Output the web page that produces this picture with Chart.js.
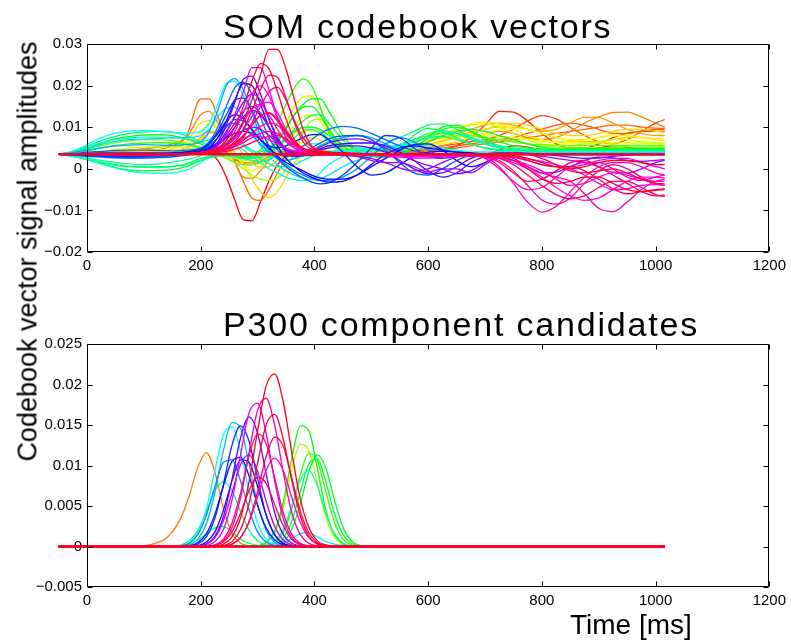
<!DOCTYPE html>
<html>
<head>
<meta charset="utf-8">
<script src="https://cdn.jsdelivr.net/npm/chart.js@4.4.1/dist/chart.umd.min.js"></script>
<style>
  body { margin: 0; background: #fff; }
  #wrap { position: relative; width: 791px; height: 640px; font-family: "Liberation Sans", Arial, sans-serif; color: #000; }
  canvas { position: absolute; left: 0; }
  #som { top: 0; }
  #p300 { top: 300px; }
  .lbl { position: absolute; white-space: nowrap; }
  .title { left: 223px; font-size: 34px; line-height: 34px; letter-spacing: 1.8px; }
  #t1 { top: 9px; }
  #t2 { top: 307px; }
  #xlab { left: 570px; top: 611px; font-size: 28px; line-height: 28px; }
  #ylab { left: -222px; top: 238px; width: 500px; height: 27px; font-size: 27px; line-height: 27px; text-align: center; transform: rotate(-90deg); }
</style>
</head>
<body>
<div id="wrap">
  <canvas id="som" width="791" height="300"></canvas>
  <canvas id="p300" width="791" height="340"></canvas>
  <div class="lbl title" id="t1">SOM codebook vectors</div>
  <div class="lbl title" id="t2">P300 component candidates</div>
  <div class="lbl" id="xlab">Time [ms]</div>
  <div class="lbl" id="ylab">Codebook vector signal amplitudes</div>
</div>
<script>
// amplitudes below are in thousandths (1 = 0.001)
const xTicks = [0, 200, 400, 600, 800, 1000, 1200];
const somTicks = [-0.02, -0.01, 0, 0.01, 0.02, 0.03];
const p300Ticks = [-0.005, 0, 0.005, 0.01, 0.015, 0.02, 0.025];

// sample times of the codebook vectors [ms]
const somTime = [-50, -25, 0, 25, 50, 75, 100, 125, 150, 175,
  200, 215, 230, 245, 260, 275, 290, 305, 320, 335, 350, 365, 380, 395, 410, 425,
  450, 475, 500, 525, 550, 575, 600, 625, 650, 675,
  700, 725, 750, 775, 800, 825, 850, 875, 900, 925, 950, 975, 1000, 1016];

const cb01 = [3.5,3.4,3.2,3.0,2.9,3.0,3.2,3.4,3.6,3.9, 4.4,4.0,2.0,-2.0,-7.5,-12.3,-12.5,-8.0,-3.0,1.0,3.0,4.0,4.3,4.2,4.0,3.8, 3.6,3.5,3.4,3.4,3.5,3.6,3.6,3.5,3.5,3.5, 3.6,4.5,5.5,5.2,4.4,3.8,3.6,4.0,5.0,5.5,5.2,4.6,4.4,4.4];
const cb02 = [3.5,3.5,3.6,3.7,3.8,3.8,3.7,3.6,3.6,3.8, 4.5,5.0,5.0,4.0,2.5,1.5,1.5,2.5,3.5,4.0,4.0,3.8,3.6,3.5,3.5,3.5, 3.5,3.5,3.6,3.6,3.7,3.8,4.0,4.5,5.5,7.5, 10.5,13.8,13.6,11.5,8.5,6.0,5.0,5.0,6.0,7.5,8.5,9.0,9.0,9.0];
const cb03 = [3.5,3.6,3.8,4.0,4.2,4.2,4.1,4.0,4.0,4.2, 5.0,5.5,5.0,4.0,3.0,2.5,2.5,3.0,3.5,3.8,3.8,3.7,3.6,3.6,3.5,3.5, 3.5,3.6,3.7,3.9,4.2,4.5,5.0,5.5,6.0,6.5, 7.0,8.0,9.5,11.5,12.8,12.0,10.0,8.0,6.5,6.0,7.0,9.0,11.0,11.8];
const cb44 = [3.5,3.5,3.6,3.6,3.7,3.7,3.7,3.7,3.8,4.0, 4.5,4.8,4.5,3.5,2.2,1.2,1.0,1.8,3.0,3.8,4.0,3.9,3.7,3.6,3.5,3.5, 3.5,3.5,3.6,3.7,3.9,4.2,4.6,5.0,5.5,6.0, 6.5,7.0,7.5,8.5,9.5,10.5,11.0,10.5,9.5,8.5,8.5,9.0,9.5,9.5];
const cb04 = [3.5,3.6,3.8,4.0,4.2,4.5,4.8,5.2,6.0,8.0, 16.8,16.8,12.5,6.5,2.0,-3.0,-7.0,-7.6,-5.0,-1.0,2.5,4.0,4.5,4.5,4.2,4.0, 3.8,3.7,3.6,3.7,3.8,4.0,4.3,4.6,5.0,5.5, 6.0,6.5,7.0,7.5,8.0,8.5,9.0,9.5,10.0,10.5,10.5,10.0,9.8,9.7];
const cb05 = [3.5,3.5,3.6,3.7,3.8,4.0,4.2,4.6,5.5,7.5, 13.0,13.8,11.0,6.5,1.5,-2.0,-2.3,-0.5,2.0,3.5,4.2,4.5,4.5,4.3,4.0,3.8, 3.7,3.7,3.8,4.0,4.3,4.6,5.0,5.5,6.5,7.5, 8.5,9.0,8.5,7.5,7.0,7.5,9.0,11.0,12.5,13.5,13.6,12.5,11.0,10.0];
const cb06 = [3.5,3.5,3.5,3.6,3.6,3.7,3.8,3.9,4.2,5.0, 7.5,9.0,8.0,5.5,3.0,1.5,1.5,2.5,3.5,4.0,4.0,3.8,3.7,3.6,3.5,3.5, 3.5,3.6,3.8,4.2,4.8,5.5,6.5,7.5,8.5,9.5, 10.5,11.0,10.5,9.5,9.0,9.5,11.0,12.4,12.3,11.0,9.5,8.5,8.0,8.0];
const cb45 = [3.5,3.5,3.5,3.6,3.7,3.8,3.9,4.0,4.3,5.0, 7.0,8.5,9.0,8.0,6.0,3.5,1.5,0.2,0.5,2.0,3.5,4.3,4.6,4.5,4.2,4.0, 3.8,3.7,3.8,4.0,4.4,5.0,5.8,6.8,7.8,8.8, 9.5,10.0,10.0,9.5,8.5,7.5,6.8,6.5,6.5,7.0,7.5,7.5,7.2,7.0];
const cb07 = [3.5,3.5,3.6,3.7,3.8,3.9,4.0,4.2,4.8,6.5, 11.0,11.5,9.5,7.0,4.0,1.0,-2.5,-5.5,-6.9,-5.5,-2.0,1.5,3.5,4.5,4.5,4.2, 4.0,3.9,3.9,4.0,4.3,4.8,5.5,6.5,7.5,8.5, 9.5,10.5,11.0,10.5,9.5,8.5,8.0,8.0,8.5,9.0,9.5,9.5,9.0,8.8];
const cb08 = [3.5,3.4,3.3,3.2,3.1,3.1,3.2,3.4,4.0,5.5, 9.0,10.8,9.5,6.5,3.5,1.0,-0.5,0.5,2.5,4.0,4.8,5.5,6.5,7.5,7.0,5.5, 4.5,4.0,3.8,3.9,4.2,5.0,6.5,8.0,9.5,10.8, 11.3,10.8,9.5,8.0,7.0,6.5,6.5,7.0,7.5,8.0,8.0,7.5,7.0,7.0];
const cb09 = [3.5,3.6,3.7,3.8,3.9,4.0,4.0,4.0,4.1,4.3, 4.8,5.0,4.8,4.2,3.5,3.0,2.8,3.0,4.0,5.5,7.0,8.3,9.0,9.2,8.5,7.0, 5.0,4.0,3.7,3.8,4.2,4.8,5.5,6.0,6.5,7.5, 8.5,9.5,9.8,9.5,8.5,7.5,7.0,7.0,7.5,8.0,8.0,7.5,7.0,6.8];
const cb46 = [3.5,3.6,3.8,4.0,4.3,4.5,4.6,4.6,4.5,4.4, 4.3,4.0,3.6,3.2,2.8,2.5,2.5,3.0,4.0,5.8,8.0,10.5,12.5,13.0,11.5,8.5, 5.5,4.2,3.8,4.0,4.6,5.5,6.5,7.3,7.8,8.0, 8.0,7.8,7.5,7.0,6.6,6.3,6.2,6.2,6.2,6.2,6.2,6.1,6.0,6.0];
const cb10 = [3.5,3.6,3.8,4.2,4.6,5.0,5.2,5.3,5.3,5.0, 4.5,4.0,3.5,3.0,2.5,2.0,2.0,2.5,4.0,7.0,11.0,15.0,17.3,17.5,14.5,10.0, 5.0,3.5,3.2,3.5,4.2,5.5,7.0,8.5,9.5,10.5, 10.8,10.0,8.5,7.0,6.0,5.5,5.5,6.0,6.5,7.0,7.0,6.5,6.3,6.2];
const cb11 = [3.5,3.4,3.2,3.0,2.8,2.7,2.7,2.8,3.0,3.5, 4.5,5.0,4.5,3.0,1.5,0.0,-1.5,-2.5,-2.8,-2.3,0.0,4.0,8.5,11.5,12.0,9.5, 5.5,3.8,3.5,3.8,4.5,5.5,6.5,7.5,8.0,8.0, 7.5,7.0,6.5,6.0,5.5,5.2,5.0,5.0,5.0,5.2,5.5,5.5,5.5,5.5];
const cb12 = [3.5,4.0,4.8,5.6,6.3,6.8,7.0,7.0,6.8,6.2, 5.2,4.5,3.5,2.5,1.5,1.0,1.0,1.5,3.0,5.0,7.0,8.8,9.8,10.0,9.0,7.2, 5.2,4.3,4.2,4.8,5.8,7.0,8.0,8.6,8.5,8.0, 7.5,7.0,6.5,6.0,5.8,5.7,5.6,5.6,5.6,5.6,5.6,5.6,5.6,5.6];
const cb13 = [3.5,3.8,4.3,5.0,5.6,6.0,6.2,6.3,6.2,5.8, 5.0,4.5,4.0,3.5,3.0,3.0,3.5,4.5,7.0,11.0,15.5,19.5,21.6,20.0,15.0,9.0, 4.5,3.0,3.0,3.5,4.5,6.0,8.0,9.5,10.0,9.0, 7.5,6.5,5.5,5.0,4.8,4.7,4.7,4.8,4.9,5.0,5.0,5.0,5.0,5.0];
const cb14 = [3.5,4.0,5.0,6.2,7.2,7.8,8.1,8.2,8.0,7.2, 6.0,5.0,4.2,3.5,3.0,2.8,3.0,3.5,4.5,6.5,9.5,13.0,15.5,16.8,16.8,14.0, 8.0,4.5,3.0,2.8,3.5,5.0,7.5,10.0,10.5,9.0, 7.0,5.5,4.8,4.5,4.5,4.6,4.7,4.8,4.8,4.8,4.8,4.8,4.8,4.8];
const cb15 = [3.5,3.0,2.2,1.2,0.3,-0.3,-0.5,-0.4,-0.2,0.5, 2.0,2.8,3.3,3.5,3.5,3.5,3.6,4.0,5.0,7.0,10.0,13.0,14.8,15.0,13.0,9.5, 5.5,3.5,3.0,3.3,4.0,5.0,6.5,8.0,9.0,9.5, 9.0,8.0,7.0,6.0,5.2,4.8,4.6,4.6,4.6,4.6,4.6,4.6,4.6,4.6];
const cb16 = [3.5,3.1,2.4,1.6,1.0,0.6,0.4,0.4,0.6,1.2, 2.5,3.0,3.4,3.5,3.3,3.0,2.8,3.0,3.8,5.0,7.0,9.5,11.5,12.8,13.0,11.0, 7.0,4.0,3.0,3.2,5.0,8.0,9.7,9.0,7.5,6.0, 5.0,4.5,4.3,4.2,4.2,4.2,4.3,4.3,4.3,4.3,4.3,4.3,4.3,4.3];
const cb17 = [3.5,4.2,5.4,6.8,7.8,8.5,8.9,9.0,8.8,8.0, 6.5,5.5,4.5,3.5,2.8,2.5,2.5,3.0,4.0,5.5,7.5,9.0,10.0,10.0,9.5,8.0, 6.0,5.0,5.0,6.0,7.5,9.0,10.5,10.8,9.5,7.5, 6.0,5.0,4.5,4.3,4.2,4.2,4.2,4.2,4.2,4.2,4.2,4.2,4.2,4.2];
const cb18 = [3.5,3.0,2.2,1.4,0.8,0.5,0.4,0.5,0.6,1.0, 2.0,2.6,3.0,3.2,3.0,2.5,2.0,1.8,2.2,3.5,5.5,7.5,9.0,9.5,8.5,6.5, 4.5,3.5,3.3,3.8,5.0,6.5,7.5,7.8,7.0,6.0, 5.0,4.5,4.3,4.2,4.1,4.1,4.1,4.1,4.1,4.1,4.1,4.1,4.1,4.1];
const cb19 = [3.5,3.2,2.6,2.0,1.5,1.2,1.0,1.2,1.6,2.2, 3.2,4.5,6.0,6.8,6.5,5.5,4.0,2.5,1.2,0.5,0.5,1.0,2.0,3.0,3.8,4.2, 4.5,4.5,4.6,5.0,5.8,7.0,8.5,9.2,8.5,7.0, 6.0,5.2,4.8,4.5,4.4,4.4,4.4,4.4,4.4,4.4,4.4,4.4,4.4,4.4];
const cb20 = [3.5,4.2,5.2,6.2,7.0,7.4,7.6,7.6,7.5,7.2, 6.5,7.0,8.0,8.2,7.5,6.0,4.5,3.5,3.0,3.0,3.5,4.5,5.5,6.0,6.0,5.5, 4.5,4.0,4.0,4.5,5.5,6.5,7.5,8.5,8.5,7.5, 6.5,5.5,5.0,4.6,4.4,4.3,4.3,4.3,4.3,4.3,4.3,4.3,4.3,4.3];
const cb21 = [3.5,3.0,2.4,1.2,0.2,-0.6,-1.0,-1.1,-1.0,-0.3, 1.5,3.0,4.5,5.5,5.5,4.5,3.0,1.5,0.0,-1.0,-2.0,-2.6,-2.8,-2.5,-1.0,1.0, 3.0,4.0,4.5,4.8,5.2,5.5,5.5,5.0,4.5,4.0, 4.0,4.1,4.1,4.0,3.9,3.9,4.0,4.1,4.1,4.0,4.0,4.0,4.0,4.0];
const cb22 = [3.5,4.2,5.8,7.5,8.6,9.1,9.2,9.0,8.8,8.6, 9.0,11.0,15.5,20.5,21.0,17.5,12.0,7.0,4.0,2.5,2.0,2.5,3.0,3.5,3.8,4.0, 4.2,4.5,5.0,5.5,5.5,5.2,4.8,4.5,4.2,4.0, 4.0,3.9,3.9,3.9,3.9,3.9,3.9,3.9,3.9,3.9,3.9,3.9,3.9,3.9];
const cb23 = [3.5,4.0,4.9,5.9,6.6,7.0,7.1,7.3,7.5,7.5, 8.0,9.5,12.5,14.5,14.8,12.5,9.0,5.5,3.0,1.0,-0.5,-1.5,-2.2,-2.6,-2.4,-1.5, 0.5,2.0,3.0,3.5,3.5,3.4,3.3,3.3,3.4,3.5, 3.6,3.7,3.7,3.8,3.8,3.8,3.8,3.8,3.8,3.8,3.8,3.8,3.8,3.8];
const cb24 = [3.5,3.9,4.5,5.1,5.5,5.7,5.8,5.7,5.6,5.8, 6.5,9.0,14.0,20.0,21.7,19.0,13.5,8.0,4.5,2.5,2.0,2.5,3.5,4.5,5.5,6.5, 7.5,8.0,7.5,6.0,4.5,3.5,3.0,3.0,3.2,3.4, 3.5,3.6,3.6,3.6,3.6,3.6,3.6,3.6,3.6,3.6,3.6,3.6,3.6,3.6];
const cb25 = [3.5,3.3,3.0,2.8,2.6,2.6,2.7,2.9,3.2,3.6, 4.5,6.0,8.5,10.5,11.0,10.0,8.0,6.0,4.0,2.5,1.0,-0.5,-1.5,-2.3,-2.8,-2.8, -2.0,0.0,3.0,6.0,7.5,6.5,4.5,3.2,3.0,3.3, 3.5,3.5,3.5,3.5,3.5,3.5,3.5,3.5,3.5,3.5,3.5,3.5,3.5,3.5];
const cb26 = [3.5,3.7,4.0,4.2,4.4,4.5,4.5,4.4,4.3,4.5, 5.0,6.5,10.0,15.0,19.5,20.8,18.0,12.5,7.5,4.5,3.5,4.0,5.5,7.0,8.5,9.5, 10.2,9.8,8.5,7.0,5.5,4.3,3.5,3.2,3.3,3.5, 3.6,3.6,3.6,3.6,3.6,3.6,3.6,3.6,3.6,3.6,3.6,3.6,3.6,3.6];
const cb47 = [3.5,3.4,3.2,3.0,2.8,2.6,2.6,2.7,2.9,3.3, 4.2,5.5,7.5,10.0,11.8,11.5,9.5,7.0,4.8,3.5,3.0,3.2,4.0,5.0,6.2,7.2, 7.9,8.0,7.0,4.5,1.5,-1.0,-1.5,0.0,2.0,3.2, 3.5,3.6,3.6,3.6,3.6,3.6,3.6,3.6,3.6,3.6,3.6,3.6,3.6,3.6];
const cb27 = [3.5,3.3,3.1,3.0,2.9,2.9,3.0,3.1,3.3,3.6, 4.5,6.0,9.0,13.0,16.5,17.0,14.0,9.5,5.5,2.5,0.5,-1.0,-2.2,-3.2,-3.6,-3.4, -1.5,1.5,5.0,8.0,7.5,5.0,3.0,2.5,3.0,3.4, 3.5,3.5,3.5,3.5,3.5,3.5,3.5,3.5,3.5,3.5,3.5,3.5,3.5,3.5];
const cb28 = [3.5,3.6,3.7,3.8,3.8,3.8,3.8,3.8,3.9,4.1, 4.8,6.0,8.5,11.5,13.0,12.0,9.5,7.0,5.5,5.0,5.5,6.5,7.5,8.2,8.2,7.0, 4.0,0.5,-1.5,-1.0,1.0,3.0,4.0,4.2,4.0,3.8, 3.6,3.5,3.5,3.5,3.5,3.5,3.5,3.5,3.5,3.5,3.5,3.5,3.5,3.5];
const cb48 = [3.5,3.5,3.5,3.4,3.4,3.4,3.4,3.5,3.6,3.8, 4.3,5.0,6.2,7.5,8.5,9.0,8.5,7.0,5.0,3.0,1.5,0.5,-0.5,-1.5,-2.2,-2.5, -2.5,-1.5,0.5,2.5,4.5,5.8,6.0,4.5,2.0,0.5, 1.5,3.0,3.5,3.5,3.5,3.5,3.5,3.5,3.5,3.5,3.5,3.5,3.5,3.5];
const cb29 = [3.5,3.5,3.4,3.4,3.3,3.3,3.3,3.4,3.5,3.7, 4.2,5.0,7.5,11.5,16.5,20.5,20.0,15.5,10.0,5.5,2.5,0.5,-1.0,-2.0,-2.8,-3.2, -3.0,-1.5,1.0,3.5,5.0,5.5,5.0,4.5,4.0,3.8, 3.6,3.5,3.4,3.4,3.4,3.4,3.4,3.4,3.4,3.4,3.4,3.4,3.4,3.4];
const cb49 = [3.5,3.5,3.5,3.5,3.5,3.5,3.5,3.5,3.5,3.6, 4.0,4.6,5.8,7.5,10.0,12.5,14.0,13.0,10.0,6.8,4.5,3.5,3.5,4.0,4.8,5.5, 6.0,6.2,6.2,5.5,4.0,2.0,-0.5,-2.0,-1.0,1.5, 3.0,3.6,3.7,3.6,3.5,3.4,3.4,3.4,3.4,3.4,3.4,3.4,3.4,3.4];
const cb30 = [3.5,3.4,3.3,3.2,3.1,3.1,3.1,3.2,3.4,3.6, 4.0,4.6,6.5,10.5,16.0,21.5,22.3,18.0,12.0,7.0,4.0,3.0,3.2,3.8,4.5,5.0, 5.5,5.5,5.0,4.0,2.0,0.0,-1.2,-1.0,0.5,2.5, 3.5,3.8,3.8,3.7,3.6,3.5,3.5,3.5,3.5,3.5,3.5,3.5,3.5,3.5];
const cb31 = [3.5,3.5,3.5,3.5,3.6,3.6,3.6,3.6,3.6,3.7, 4.0,4.5,6.0,9.0,12.5,16.0,18.0,16.5,12.0,7.5,4.8,3.8,3.8,4.3,5.2,6.2, 7.0,7.2,6.5,5.0,3.5,2.0,0.8,0.0,-1.2,-0.5, 1.5,3.2,3.6,3.5,3.4,3.2,2.8,2.5,2.6,3.0,3.3,3.4,3.4,3.4];
const cb50 = [3.5,3.5,3.5,3.5,3.5,3.5,3.5,3.5,3.5,3.6, 3.8,4.2,5.0,6.2,7.8,9.2,10.0,9.5,8.0,6.2,4.8,4.0,3.6,3.4,3.3,3.3, 3.2,3.0,2.5,1.5,0.2,-0.5,0.0,1.5,2.8,3.4, 3.5,3.4,2.5,0.5,-1.0,-0.8,0.5,2.0,2.8,2.6,2.0,1.8,2.0,2.2];
const cb32 = [3.5,3.5,3.5,3.5,3.5,3.4,3.4,3.4,3.5,3.6, 3.9,4.3,5.5,8.0,11.0,13.8,15.0,13.5,10.0,6.5,4.5,3.5,3.2,3.2,3.4,3.6, 3.5,3.0,2.0,1.5,1.5,0.5,-0.8,0.0,0.0,-1.0, 1.0,3.0,3.8,3.6,3.0,2.5,2.0,1.5,0.5,-0.8,-1.0,0.0,1.5,2.0];
const cb33 = [3.5,3.5,3.6,3.6,3.6,3.6,3.5,3.5,3.5,3.6, 3.9,4.3,5.5,8.5,13.0,18.5,24.3,24.3,19.0,12.5,7.5,5.0,4.2,4.0,4.0,3.8, 3.6,3.4,3.2,3.0,2.8,2.6,2.6,2.8,3.0,3.2, 3.3,3.2,2.8,2.0,1.0,0.5,0.5,1.0,2.0,2.5,2.5,1.5,0.5,0.0];
const cb51 = [3.5,3.5,3.5,3.5,3.5,3.5,3.5,3.5,3.5,3.5, 3.7,4.0,4.6,5.6,7.2,9.5,12.5,15.5,16.0,13.5,9.5,6.5,4.8,4.1,3.8,3.7, 3.6,3.5,3.4,3.3,3.2,3.1,3.0,3.0,3.0,3.0, 3.0,3.0,2.8,2.4,1.8,1.0,0.0,-1.5,-3.5,-5.0,-4.8,-4.0,-3.8,-4.0];
const cb34 = [3.5,3.5,3.5,3.4,3.4,3.4,3.4,3.4,3.5,3.6, 3.8,4.0,4.6,6.0,9.0,13.5,18.0,20.0,17.5,12.0,7.5,5.0,4.2,4.0,4.0,3.9, 3.7,3.5,3.3,3.2,3.1,3.0,3.0,3.0,3.0,3.1, 3.0,2.5,1.5,0.0,-2.0,-4.5,-6.5,-7.6,-7.0,-5.0,-3.0,-2.0,-2.0,-2.2];
const cb35 = [3.5,3.5,3.5,3.5,3.5,3.5,3.5,3.5,3.5,3.5, 3.6,3.8,4.2,5.0,6.0,7.2,8.0,7.8,7.0,6.0,5.0,4.3,4.0,3.8,3.7,3.6, 3.5,3.5,3.5,3.5,3.5,3.5,3.5,3.4,3.3,3.2, 3.0,2.6,2.0,1.0,-0.5,-2.5,-4.0,-3.5,-2.0,-1.0,-1.5,-2.5,-3.0,-3.0];
const cb36 = [3.5,3.5,3.5,3.5,3.5,3.5,3.5,3.5,3.5,3.6, 3.8,4.0,4.5,5.5,7.5,11.0,14.5,15.5,13.0,9.5,6.5,5.0,4.3,4.0,4.0,3.9, 3.8,3.7,3.6,3.5,3.4,3.3,3.2,3.2,3.2,3.2, 2.8,0.5,-3.5,-8.0,-10.4,-9.0,-5.5,-2.0,0.5,1.5,1.5,0.5,-1.0,-1.5];
const cb37 = [3.5,3.5,3.5,3.5,3.5,3.5,3.5,3.5,3.5,3.5, 3.6,3.7,4.0,4.5,5.3,6.3,7.5,8.5,9.0,8.5,7.0,5.5,4.5,4.0,3.8,3.7, 3.6,3.6,3.5,3.5,3.5,3.5,3.5,3.5,3.4,3.3, 2.5,0.0,-3.0,-5.0,-4.5,-2.0,0.5,1.5,1.5,0.0,-2.0,-2.8,-2.0,-1.5];
const cb38 = [3.5,3.5,3.4,3.4,3.3,3.3,3.3,3.3,3.4,3.5, 3.7,3.9,4.2,4.8,6.0,8.0,10.5,12.8,13.3,11.5,8.5,6.0,4.6,4.0,3.8,3.7, 3.6,3.6,3.5,3.5,3.5,3.5,3.5,3.5,3.5,3.4, 3.3,3.0,2.0,0.5,-1.0,-2.0,-3.0,-6.0,-9.5,-10.3,-8.0,-5.0,-3.0,-2.5];
const cb52 = [3.5,3.5,3.5,3.5,3.5,3.5,3.5,3.5,3.5,3.5, 3.6,3.8,4.1,4.6,5.5,6.8,8.5,10.2,11.0,10.5,8.5,6.2,4.8,4.1,3.8,3.7, 3.6,3.6,3.6,3.5,3.5,3.5,3.4,3.4,3.3,3.2, 3.0,2.0,-0.5,-4.0,-7.5,-8.5,-7.0,-3.5,-0.5,1.0,0.0,-2.0,-3.5,-4.0];
const cb39 = [3.5,3.5,3.5,3.5,3.5,3.5,3.5,3.5,3.5,3.6, 3.7,3.8,4.0,4.5,5.5,7.5,11.0,15.0,18.5,19.6,16.5,11.5,7.5,5.2,4.3,4.0, 3.8,3.6,3.5,3.5,3.5,3.4,3.4,3.4,3.3,3.3, 3.2,2.5,1.0,-1.5,-4.0,-6.2,-7.2,-6.5,-4.5,-3.0,-3.0,-4.5,-6.2,-6.7];
const cb53 = [3.5,3.5,3.5,3.5,3.5,3.5,3.5,3.5,3.5,3.5, 3.6,3.7,3.9,4.2,4.7,5.4,6.3,7.2,7.8,8.0,7.2,5.8,4.7,4.0,3.7,3.6, 3.5,3.5,3.5,3.5,3.5,3.5,3.5,3.4,3.4,3.3, 3.0,1.5,-1.0,-3.0,-2.5,-0.5,1.5,2.0,0.5,-1.5,-3.5,-5.5,-6.5,-6.3];
const cb40 = [3.5,3.5,3.5,3.5,3.5,3.5,3.5,3.5,3.5,3.6, 3.7,3.8,4.2,5.0,6.5,9.5,14.0,19.0,22.5,22.0,17.0,11.0,6.5,4.6,4.1,3.9, 3.7,3.6,3.5,3.5,3.5,3.5,3.5,3.4,3.4,3.4, 3.3,3.2,2.8,2.0,1.0,0.5,0.5,-0.5,-2.5,-4.8,-6.0,-5.5,-5.0,-4.8];
const cb41 = [3.5,3.5,3.5,3.5,3.5,3.5,3.5,3.5,3.5,3.6, 3.7,3.9,4.3,5.0,6.2,8.0,10.5,12.8,13.5,12.0,9.0,6.5,5.0,4.3,4.0,3.8, 3.7,3.6,3.6,3.5,3.5,3.5,3.5,3.5,3.5,3.5, 3.5,3.6,3.8,3.5,2.5,1.0,-0.5,-1.0,-0.5,0.0,-1.0,-2.5,-3.5,-3.6];
const cb42 = [3.5,3.5,3.5,3.5,3.5,3.5,3.5,3.5,3.6,3.7, 4.0,4.3,5.0,6.8,10.0,15.0,21.0,25.3,24.0,18.5,12.0,7.0,4.8,4.2,4.0,3.9, 3.7,3.6,3.6,3.5,3.5,3.5,3.5,3.5,3.4,3.4, 3.3,3.0,2.0,0.0,-2.5,-3.5,-3.0,-2.0,-2.0,-3.5,-5.0,-5.5,-5.2,-5.0];
const cb43 = [3.5,3.5,3.5,3.5,3.5,3.5,3.5,3.5,3.5,3.6, 3.8,4.0,4.6,5.8,8.0,11.5,16.5,22.5,28.7,28.7,24.0,16.5,9.5,5.5,4.3,4.0, 3.8,3.7,3.6,3.6,3.5,3.5,3.5,3.5,3.5,3.5, 3.5,3.4,3.2,2.5,1.5,0.5,0.0,0.5,1.5,2.0,2.0,1.5,1.0,1.0];
// the many near-flat units that pile up on the rest level
const somRest = [3.5,3.5,3.5,3.5,3.5,3.5,3.5,3.5,3.5,3.5, 3.5,3.5,3.5,3.5,3.5,3.5,3.5,3.5,3.5,3.5,3.5,3.5,3.5,3.5,3.5,3.5, 3.5,3.5,3.5,3.5,3.5,3.5,3.5,3.5,3.5,3.5, 3.5,3.5,3.5,3.5,3.5,3.5,3.5,3.5,3.5,3.5,3.5,3.5,3.5,3.5];

// map units in map order, with their hue
const somUnits = [cb01, cb02, cb03, cb44, cb04, cb05, cb06, cb45, cb07, cb08, cb09, cb46, cb10, cb11, cb12,
  cb13, cb14, cb15, cb16, cb17, cb18, cb19, cb20, cb21, cb22, cb23, cb24, cb25, cb26, cb47, cb27, cb28,
  cb48, cb29, cb49, cb30, cb31, cb50, cb32, cb33, cb51, cb34, cb35, cb36, cb37, cb38, cb52, cb39, cb53,
  cb40, cb41, cb42, cb43];
const somHues = [0, 8, 16, 20, 25, 30, 38, 45, 50, 56, 62, 66, 72, 85, 95,
  110, 120, 128, 138, 145, 150, 155, 162, 172, 180, 188, 200, 207, 215, 220, 225, 235,
  240, 245, 255, 262, 270, 275, 280, 292, 298, 302, 308, 314, 318, 324, 328, 332, 336,
  340, 346, 350, 355];

// sample times of the P300 candidates [ms]
const p3Time = [-50, 90, 105, 120, 135, 150, 165, 180, 195, 210, 225, 240, 255, 270, 285, 300, 315, 330,
  345, 360, 375, 390, 405, 420, 435, 450, 465, 480, 495, 510, 1016];

const p3Hues = [28, 80, 108, 118, 128, 136, 140, 150, 160, 180, 185, 197, 207, 228, 236, 248, 265, 282,
  292, 310, 320, 330, 338, 345, 350, 356];

const pc01 = [0, 0.05,0.15,0.4,0.8,1.8,3.5,6.3,9.8,11.6,9.2,4.7,1.6,0.4,0.1,0.05, 0,0,0,0,0,0,0,0,0,0,0,0,0,0, 0];
const pc02 = [0, 0,0,0,0,0,0,0,0,0,0,0,0,0,0, 0.08,0.44,1.7,4.8,9.4,12.6,11.9,7.8,3.6,1.15,0.26,0.05,0,0,0, 0];
const pc03 = [0, 0,0,0,0,0,0,0,0,0,0,0,0,0,0,0, 0.08,0.44,1.7,4.6,8.8,11.5,10.6,6.8,3.0,0.95,0.2,0.03,0,0, 0];
const pc04 = [0, 0,0,0,0,0,0,0,0,0,0,0,0,0,0, 0.08,0.5,1.9,5.4,10.8,14.9,14.3,9.7,4.5,1.5,0.34,0.05,0,0,0, 0];
const pc05 = [0, 0,0,0,0,0,0,0,0,0,0,0,0,0,0,0, 0.02,0.11,0.58,2.1,5.2,9.2,11.3,9.7,5.8,2.4,0.7,0.15,0.02,0, 0];
const pc06 = [0, 0,0,0,0,0,0,0,0,0,0,0,0,0,0,0, 0.03,0.22,1.0,3.1,6.7,10.2,10.8,8.0,4.1,1.5,0.4,0.07,0,0, 0];
const pc07 = [0, 0,0,0,0,0.05, 0.1,0.3,0.8,1.5,2.3,2.45,1.8,0.9,0.4,0.15,0.05, 0,0,0,0,0,0,0,0,0,0,0,0,0, 0];
const pc08 = [0, 0,0,0,0, 0.03,0.17,0.7,2.0,4.3,6.9,8.0,6.9,4.3,2.0,0.7,0.17,0.03, 0,0,0,0,0,0,0,0,0,0,0,0, 0];
const pc09 = [0, 0,0,0,0,0,0,0,0,0,0,0,0,0,0, 0.02,0.13,0.64,2.1,5.0,8.2,9.4,7.5,4.1,1.6,0.43,0.08,0.01,0,0, 0];
const pc10 = [0, 0,0,0,0,0, 0.1,0.5,1.7,4.7,9.4,13.8,14.8,11.7,6.8,2.9,0.9,0.2,0.05, 0,0,0,0,0,0,0,0,0,0,0, 0];
const pc11 = [0, 0,0,0,0,0,0,0,0,0,0,0,0,0,0,0,0, 0.1,0.4,1.0,1.6,1.7,1.2,0.6,0.3,0.15,0.1,0.05,0,0, 0];
const pc12 = [0, 0,0,0,0,0,0, 0.2,0.9,2.8,6.7,11.9,15.3,14.6,10.2,5.2,2.0,0.5,0.1, 0,0,0,0,0,0,0,0,0,0,0, 0];
const pc13 = [0, 0,0,0,0,0, 0.1,0.4,1.5,3.9,7.4,10.4,10.7,8.1,4.5,1.8,0.55,0.1, 0,0,0,0,0,0,0,0,0,0,0,0, 0];
const pc14 = [0, 0,0,0,0,0,0, 0.06,0.3,1.2,3.5,7.7,12.5,14.9,13.0,8.4,3.9,1.4,0.35,0.05, 0,0,0,0,0,0,0,0,0,0, 0];
const pc15 = [0, 0,0,0,0,0,0, 0.1,0.5,1.6,4.0,7.5,10.5,11.0,8.7,5.1,2.3,0.8,0.2, 0,0,0,0,0,0,0,0,0,0,0, 0];
const pc16 = [0, 0,0,0,0,0,0,0, 0.1,0.55,1.8,4.5,8.1,10.7,10.4,7.4,3.9,1.5,0.4,0.1, 0,0,0,0,0,0,0,0,0,0, 0];
const pc17 = [0, 0,0,0,0,0,0,0, 0.06,0.3,1.25,3.7,8.3,13.4,16.0,14.0,9.0,4.2,1.5,0.4,0.1, 0,0,0,0,0,0,0,0,0, 0];
const pc18 = [0, 0,0,0,0,0,0,0, 0.05,0.3,1.1,3.2,6.6,10.1,11.3,9.3,5.6,2.5,0.8,0.2, 0,0,0,0,0,0,0,0,0,0, 0];
const pc19 = [0, 0,0,0,0,0,0,0,0, 0.1,0.6,2.1,5.7,11.3,16.5,17.7,14.0,8.1,3.5,1.1,0.25,0.05, 0,0,0,0,0,0,0,0, 0];
const pc20 = [0, 0,0,0,0,0,0,0,0,0,0, 0.06,0.3,1.1,3.0,6.1,9.4,10.9,9.4,6.1,3.0,1.1,0.3,0.06, 0,0,0,0,0,0, 0];
const pc21 = [0, 0,0,0,0,0,0,0,0, 0.03,0.15,0.7,2.3,6.0,11.6,16.8,18.3,15.0,9.2,4.2,1.5,0.4,0.08, 0,0,0,0,0,0,0, 0];
const pc22 = [0, 0,0,0,0,0,0,0,0,0, 0.2,0.9,2.9,6.6,11.2,13.9,12.7,8.5,4.2,1.5,0.4,0.08, 0,0,0,0,0,0,0,0, 0];
const pc23 = [0, 0,0,0,0,0,0,0,0,0, 0.13,0.6,1.8,4.1,6.9,8.55,7.8,5.2,2.6,0.9,0.25,0.05, 0,0,0,0,0,0,0,0, 0];
const pc24 = [0, 0,0,0,0,0,0,0,0,0,0, 0.05,0.3,1.1,3.1,6.8,11.1,13.5,12.4,8.5,4.4,1.7,0.5,0.1, 0,0,0,0,0,0, 0];
const pc25 = [0, 0,0,0,0,0,0,0,0,0,0, 0.13,0.6,2.1,5.3,10.3,15.0,16.3,13.3,8.2,3.8,1.3,0.35,0.07, 0,0,0,0,0,0, 0];
const pc26 = [0, 0,0,0,0,0,0,0,0,0, 0.07,0.3,1.2,3.5,8.0,14.3,19.8,21.3,17.9,11.7,5.9,2.4,0.7,0.2,0.03, 0,0,0,0,0, 0];
const p3Rest = [0, 0,0,0,0,0,0,0,0,0,0,0,0,0,0,0,0,0,0,0,0,0,0,0,0,0,0,0,0,0, 0];

const p3Units = [pc01, pc02, pc03, pc04, pc05, pc06, pc07, pc08, pc09, pc10, pc11, pc12, pc13,
  pc14, pc15, pc16, pc17, pc18, pc19, pc20, pc21, pc22, pc23, pc24, pc25, pc26];

Chart.defaults.font.family = '"Liberation Sans", Arial, sans-serif';
Chart.defaults.font.size = 15;
Chart.defaults.color = '#000';

const hueColor = h => `hsl(${h}, 100%, 50%)`;
const tickText = v => String(Math.round(v * 1000) / 1000).replace('-', '\u2212');

function buildSets(time, hues, units, rest) {
  const toPoints = row => row.map((v, j) => ({ x: time[j], y: v / 1000 }));
  const sets = units.map((row, i) => ({ data: toPoints(row), borderColor: hueColor(hues[i]), borderWidth: 1.3 }));
  sets.push({ data: toPoints(rest), borderColor: 'hsl(352, 100%, 50%)', borderWidth: 2.6 });
  // dataset 0 is painted last, so reverse to keep the red end of the map on top
  return sets.reverse();
}

// MATLAB-like box with inward ticks on all four sides
const frame = {
  id: 'frame',
  afterDraw(chart) {
    const { ctx, chartArea: a, scales: { x, y } } = chart;
    const L = Math.round(a.left) + 0.5, R = Math.round(a.right) - 0.5;
    const T = Math.round(a.top) + 0.5, B = Math.round(a.bottom) - 0.5;
    ctx.save();
    ctx.strokeStyle = '#000';
    ctx.lineWidth = 1;
    ctx.beginPath();
    ctx.rect(L, T, R - L, B - T);
    x.ticks.forEach(t => {
      const p = Math.round(x.getPixelForValue(t.value)) + 0.5;
      ctx.moveTo(p, B); ctx.lineTo(p, B - 5);
      ctx.moveTo(p, T); ctx.lineTo(p, T + 5);
    });
    y.ticks.forEach(t => {
      const p = Math.round(y.getPixelForValue(t.value)) + 0.5;
      ctx.moveTo(L, p); ctx.lineTo(L + 5, p);
      ctx.moveTo(R, p); ctx.lineTo(R - 5, p);
    });
    ctx.stroke();
    ctx.restore();
  }
};

function makeChart(id, sets, yTicks, xAxisHeight) {
  return new Chart(document.getElementById(id), {
    type: 'line',
    data: { datasets: sets },
    options: {
      responsive: false,
      animation: false,
      devicePixelRatio: 1,
      events: [],
      layout: { padding: { left: 0, right: 20, top: 44, bottom: 0 } },
      datasets: {
        line: { pointRadius: 0, fill: false, clip: false, cubicInterpolationMode: 'monotone' }
      },
      plugins: { legend: { display: false }, tooltip: { enabled: false }, title: { display: false } },
      scales: {
        x: {
          type: 'linear',
          // limits set here (not via min/max) so the lead-in before 0 ms is still drawn
          afterDataLimits: s => { s.min = xTicks[0]; s.max = xTicks[xTicks.length - 1]; },
          afterBuildTicks: s => { s.ticks = xTicks.map(v => ({ value: v })); },
          afterFit: s => { s.height = xAxisHeight; },
          grid: { display: false, drawTicks: false },
          border: { display: false },
          ticks: { padding: 5, maxRotation: 0, autoSkip: false, callback: v => String(v) }
        },
        y: {
          min: yTicks[0],
          max: yTicks[yTicks.length - 1],
          afterBuildTicks: s => { s.ticks = yTicks.map(v => ({ value: v })); },
          afterFit: s => { s.width = 87; },
          grid: { display: false, drawTicks: false },
          border: { display: false },
          ticks: { padding: 5, autoSkip: false, callback: tickText }
        }
      }
    },
    plugins: [frame]
  });
}

makeChart('som', buildSets(somTime, somHues, somUnits, somRest), somTicks, 48);
makeChart('p300', buildSets(p3Time, p3Hues, p3Units, p3Rest), p300Ticks, 53);
</script>
</body>
</html>
